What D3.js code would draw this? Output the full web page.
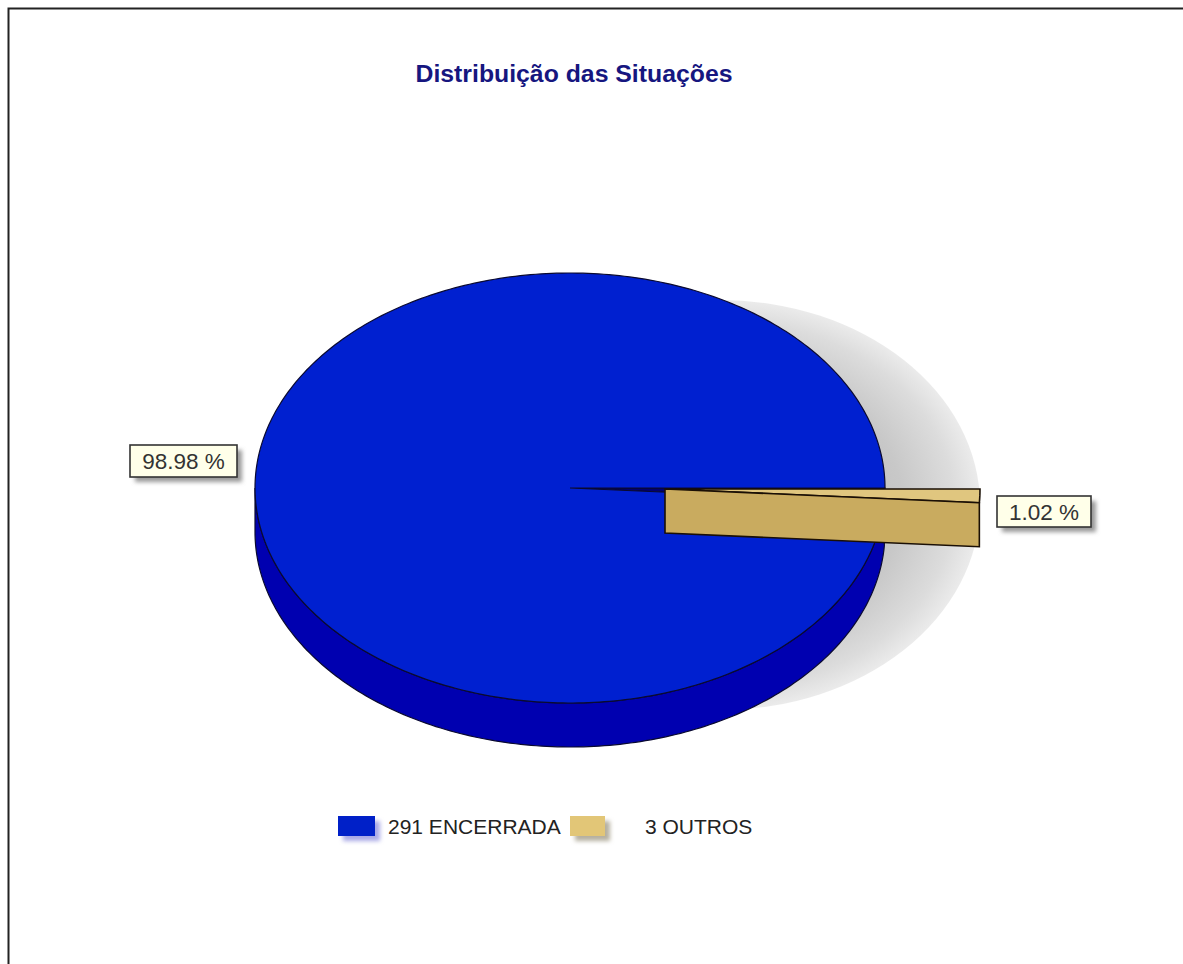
<!DOCTYPE html>
<html>
<head>
<meta charset="utf-8">
<script src="https://cdn.jsdelivr.net/npm/d3@7/dist/d3.min.js"></script>
<style>
  html, body { margin: 0; padding: 0; background: #fff; }
  svg { display: block; }
  text { font-family: "Liberation Sans", Arial, sans-serif; }
</style>
</head>
<body>
<svg id="chart" width="1183" height="964"></svg>
<script>
const chartTitle = "Distribuição das Situações";
const categories = ["OUTROS", "ENCERRADA"];
const counts = [3, 291];
const topColors = ["#c9ab5f", "#0020d0"];
const wallColors = ["#c9ab5f", "#0000b0"];
const sliverColor = "#e0c67f";
const swatchColors = ["#e2c677", "#0020c8"];
const explodeOffsets = [95, 0];

const width = 1183, height = 964;
const cx = 570, cy = 488, rx = 315, ry = 215, depth = 44;

const svg = d3.select("#chart");
const defs = svg.append("defs");

defs.append("filter").attr("id", "soft").attr("x", "-30%").attr("y", "-30%")
  .attr("width", "160%").attr("height", "160%")
  .append("feGaussianBlur").attr("stdDeviation", 2);

const shadeGrad = defs.append("radialGradient").attr("id", "pieShade")
  .attr("cx", "50%").attr("cy", "50%").attr("r", "50%");
[[0.5, "#c0c0c0"], [0.7, "#c8c8c8"], [0.9, "#dcdcdc"], [1, "#ebebeb"]].forEach(([o, c]) =>
  shadeGrad.append("stop").attr("offset", o).attr("stop-color", c));

// Frame: only the top and left rules are drawn
svg.append("path").attr("d", "M8.5,964V8.5H1183")
  .attr("fill", "none").attr("stroke", "#222").attr("stroke-width", 2);

svg.append("text").attr("x", 574).attr("y", 82).attr("text-anchor", "middle")
  .attr("font-size", 24.8).attr("font-weight", "bold").attr("fill", "#16167f")
  .text(chartTitle);

// Pie layout starts at three o'clock and runs clockwise
const pie = d3.pie().sort(null).startAngle(Math.PI / 2).endAngle(Math.PI * 2.5);
const arcs = pie(counts);
const px = a => rx * Math.sin(a);
const py = a => -ry * Math.cos(a);

// Elliptical outline between two angles, sampled into a polyline
function rimPoints(a0, a1, dx, dy) {
  const n = Math.max(2, Math.ceil(Math.abs(a1 - a0) * 60));
  return d3.range(n + 1).map(i => {
    const a = a0 + (a1 - a0) * i / n;
    return [cx + dx + px(a), cy + dy + py(a)];
  });
}
const line = d3.line();
const closed = pts => line(pts) + "Z";

// Cast shadow behind the pie
svg.append("ellipse").attr("cx", 720).attr("cy", 505).attr("rx", 260).attr("ry", 205)
  .attr("fill", "url(#pieShade)");

const main = arcs[1], minor = arcs[0];
const edgeColor = "#0a0a30";

// Main slice: outer rim along the front half
const rimFrom = main.startAngle, rimTo = Math.PI * 1.5;
svg.append("path")
  .attr("d", closed(rimPoints(rimFrom, rimTo, 0, 0).concat(rimPoints(rimTo, rimFrom, 0, depth))))
  .attr("fill", wallColors[1]).attr("stroke", edgeColor).attr("stroke-width", 1.2);

// Gap left by the exploded slice
svg.append("path")
  .attr("d", closed([[cx, cy]].concat(rimPoints(minor.startAngle, minor.endAngle, 0, 0))))
  .attr("fill", "#00006e").attr("stroke", edgeColor).attr("stroke-width", 1.2);

// Main slice: top face
svg.append("path")
  .attr("d", closed([[cx, cy]].concat(rimPoints(main.startAngle, main.endAngle, 0, 0))))
  .attr("fill", topColors[1]).attr("stroke", edgeColor).attr("stroke-width", 1.2);

// Exploded slice: top face, then the wall that hangs from its lower edge
const ox = explodeOffsets[0], oy = 1;
const minorTop = rimPoints(minor.startAngle, minor.endAngle, ox, oy);
const minorEnd = minorTop[minorTop.length - 1];
svg.append("path")
  .attr("d", closed([[cx + ox, cy + oy]].concat(minorTop)))
  .attr("fill", sliverColor).attr("stroke", "#1a0f05").attr("stroke-width", 1.6);
svg.append("path")
  .attr("d", closed([[cx + ox, cy + oy], minorEnd, [minorEnd[0], minorEnd[1] + depth],
    [cx + ox, cy + oy + depth]]))
  .attr("fill", wallColors[0]).attr("stroke", "#1a0f05").attr("stroke-width", 1.6);

// Percentage callouts
const total = d3.sum(counts);
const pctFormat = d3.format(".2f");
const calloutBoxes = [
  { i: 1, x: 130, y: 445, w: 107, h: 32 },
  { i: 0, x: 997, y: 496, w: 94, h: 31 }
];
calloutBoxes.forEach(b => {
  svg.append("rect").attr("x", b.x + 5).attr("y", b.y + 5).attr("width", b.w).attr("height", b.h)
    .attr("fill", "#999").attr("filter", "url(#soft)");
  svg.append("rect").attr("x", b.x).attr("y", b.y).attr("width", b.w).attr("height", b.h)
    .attr("fill", "#ffffe9").attr("stroke", "#333").attr("stroke-width", 1.6);
  svg.append("text").attr("x", b.x + b.w / 2).attr("y", b.y + b.h / 2 + 8)
    .attr("text-anchor", "middle").attr("font-size", 22.5).attr("fill", "#333")
    .text(`${pctFormat(counts[b.i] / total * 100)} %`);
});

// Legend
const legendItems = [
  { i: 1, sx: 338, sw: 37, tx: 388 },
  { i: 0, sx: 570, sw: 35, tx: 645 }
];
legendItems.forEach(l => {
  svg.append("rect").attr("x", l.sx + 5).attr("y", 821).attr("width", l.sw).attr("height", 20)
    .attr("fill", l.i === 1 ? "#a9a9e6" : "#b5b0a0").attr("filter", "url(#soft)");
  svg.append("rect").attr("x", l.sx).attr("y", 816).attr("width", l.sw).attr("height", 20)
    .attr("fill", swatchColors[l.i]);
  svg.append("text").attr("x", l.tx).attr("y", 834)
    .attr("font-size", 21).attr("fill", "#222")
    .text(`${counts[l.i]} ${categories[l.i]}`);
});
</script>
</body>
</html>
